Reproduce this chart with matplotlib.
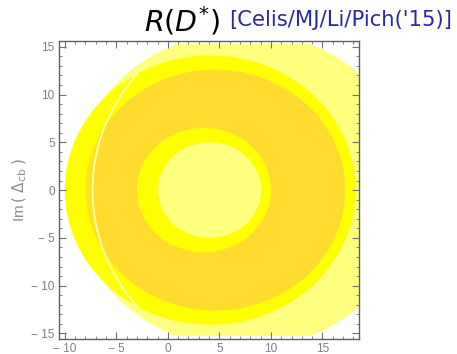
import matplotlib
matplotlib.use("Agg")
import matplotlib.pyplot as plt
import numpy as np
from matplotlib.patches import Circle, Rectangle
from matplotlib.ticker import MultipleLocator, FixedLocator

plt.rcParams['font.family'] = ['Liberation Sans', 'DejaVu Sans']
plt.rcParams['mathtext.fontset'] = 'dejavusans'

# allowed regions in the complex Delta_cb plane, drawn back to front
# (centre on the real axis, radius, colour)
region_names = ["outer", "band", "core", "hole ring", "hole"]
region_centre = [7.3, 4.1, 4.6, 3.5, 4.05]
region_radius = [16.6, 14.1, 12.6, 6.5, 5.0]
region_color = ["#ffff80", "#ffff00", "#ffe324", "#ffff00", "#ffff80"]

# second boundary seen as thin arc on the left
arc_centre = 12.1
arc_radius = 19.4
core_color = "#ffdc2e"

y_cut = 15.25          # sampling range of the region plot
x_lim = (-10.56, 18.56)
y_lim = (-15.6, 15.6)

xticks = [-10, -5, 0, 5, 10, 15]
yticks = [-15, -10, -5, 0, 5, 10, 15]

def lab(v):
    return "\u2212 %d" % -v if v < 0 else "%d" % v

fig = plt.figure(figsize=(4.57, 3.54), dpi=100)
ax = fig.add_axes([0.129, 0.042, 0.657, 0.842])
ax.set_xlim(*x_lim)
ax.set_ylim(*y_lim)

clip = Rectangle((x_lim[0], -y_cut), x_lim[1] - x_lim[0], 2 * y_cut,
                 transform=ax.transData)
for name, c, r, col in zip(region_names, region_centre, region_radius, region_color):
    p = Circle((c, 0), r, facecolor=col, edgecolor="none", zorder=1)
    ax.add_patch(p)
    p.set_clip_path(clip)
    if name == "core":
        # most of the core is inside the shifted circle -> darker shade
        inner = Circle((arc_centre, 0), arc_radius, facecolor=core_color,
                       edgecolor="none", zorder=1)
        ax.add_patch(inner)
        inner.set_clip_path(Circle((c, 0), r, transform=ax.transData))
        line = Circle((arc_centre, 0), arc_radius, facecolor="none",
                      edgecolor="#ffffa8", lw=1.3, zorder=1)
        ax.add_patch(line)
        line.set_clip_path(Circle((region_centre[1], 0), region_radius[1],
                                  transform=ax.transData))

ax.xaxis.set_major_locator(FixedLocator(xticks))
ax.yaxis.set_major_locator(FixedLocator(yticks))
ax.xaxis.set_minor_locator(MultipleLocator(1))
ax.yaxis.set_minor_locator(MultipleLocator(1))
ax.set_xticklabels([lab(v) for v in xticks])
ax.set_yticklabels([lab(v) for v in yticks])
ax.tick_params(which="both", direction="in", top=True, right=True,
               color="#707070", labelcolor="#808080", labelsize=8.5, pad=3)
ax.tick_params(which="major", length=5, width=0.8)
ax.tick_params(which="minor", length=2.5, width=0.6)
for s in ax.spines.values():
    s.set_color("#606060")
    s.set_linewidth(1.0)

ax.set_ylabel(r"Im$\,($ $\Delta_{\mathrm{cb}}$ $)$", color="#909090",
              fontsize=11, labelpad=2)

fig.text(0.315, 0.912, r"$R(D^{*})$", fontsize=20.5, color="black",
         ha="left", va="baseline")
fig.text(0.502, 0.927, "[Celis/MJ/Li/Pich('15)]", fontsize=15.2,
         color="#2a2aa0", ha="left", va="baseline", family="DejaVu Sans")

fig.savefig("out.png", dpi=100)
